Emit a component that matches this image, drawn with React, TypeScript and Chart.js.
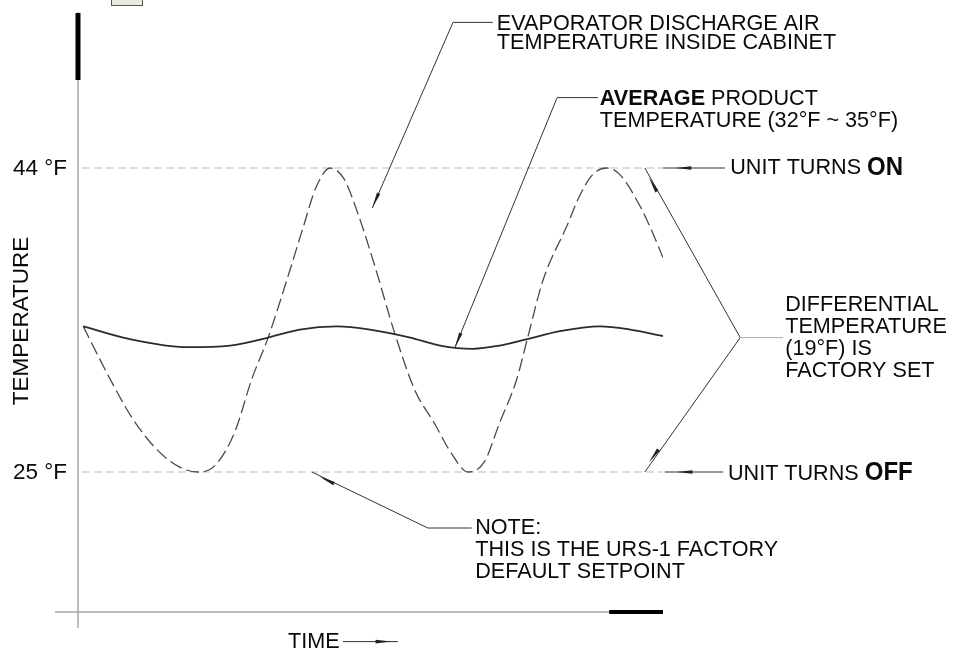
import React, { useEffect, useRef } from "react";
import { Chart, registerables } from "chart.js";

Chart.register(...registerables);

// ---- DATA (time in arbitrary units 0..100, temperature in °F) ----
const EVAP_TIME = [0.9, 5.5, 9.4, 13.5, 17.4, 20.5, 23.4, 26.8, 29.7, 32.5, 35.7, 38.5, 40.7, 43.1, 45.5, 47.9, 50.8, 54.2, 57.6, 61.0, 63.6, 66.7, 69.4, 72.1, 75.0, 76.8, 79.5, 83.6, 85.8, 88.0, 90.4, 92.6, 96.1, 97.8, 100];
const EVAP_TEMP = [34.1, 30.8, 28.3, 26.4, 25.3, 25.0, 25.4, 27.5, 30.8, 33.4, 37.0, 40.3, 42.8, 44.0, 43.3, 41.1, 37.8, 33.6, 30.1, 28.0, 26.3, 25.0, 25.6, 28.1, 30.8, 33.3, 37.0, 40.4, 42.3, 43.6, 44.0, 43.6, 41.6, 40.3, 38.4];

const AVG_TIME = [0.9, 8.9, 18.6, 26.0, 32.5, 37.9, 44.3, 49.9, 56.8, 61.9, 67.5, 72.1, 76.8, 82.4, 89.2, 94.4, 100];
const AVG_TEMP = [34.1, 33.3, 32.8, 32.9, 33.4, 33.9, 34.1, 33.9, 33.4, 32.9, 32.7, 32.9, 33.3, 33.8, 34.1, 33.9, 33.5];

const SETPOINT_ON = 44;
const SETPOINT_OFF = 25;
const REF_TIME = [0.7, 100];
const Y_TICK_VALUES = [44, 25];
const Y_TICK_LABELS = ["44 °F", "25 °F"];

// ---- LAYOUT (chart units) ----
const X_MIN = -3.93;
const X_MAX = 100;
const Y_MIN = 15.25;
const Y_MAX = 53.75;
const X_AXIS_AT = 16.25;
const Y_AXIS_AT = 0;
const Y_AXIS_BOLD_TO = 49.5;
const X_AXIS_BOLD_FROM = 90.8;

const FONT = '"Liberation Sans", Arial, Helvetica, sans-serif';
const FS = 22.5;
const FS_BOLD = 25;
const TEXT_SCALE_X = 0.96;

type Pt = [number, number];
interface Callout {
  path: Pt[];
  arrows: { tip: Pt; from: Pt }[];
  color?: string;
}

const CALLOUTS: Callout[] = [
  { path: [[50.3, 41.5], [64.1, 53.1], [70.9, 53.1]], arrows: [{ tip: [50.3, 41.5], from: [64.1, 53.1] }] },
  { path: [[64.4, 32.75], [81.9, 48.4], [88.9, 48.4]], arrows: [{ tip: [64.4, 32.75], from: [81.9, 48.4] }] },
  { path: [[100, 44], [110.6, 44]], arrows: [{ tip: [102.1, 44], from: [110.6, 44] }] },
  { path: [[100.3, 25], [110.3, 25]], arrows: [{ tip: [102.3, 25], from: [110.3, 25] }] },
  {
    path: [[96.9, 44], [113.2, 33.4], [96.9, 25]],
    arrows: [
      { tip: [97.6, 43.4], from: [113.2, 33.4] },
      { tip: [97.6, 25.6], from: [113.2, 33.4] },
    ],
  },
  { path: [[113.2, 33.4], [120.5, 33.4]], arrows: [], color: "#aaaaaa" },
  { path: [[40, 25], [59.8, 21.5], [67.3, 21.5]], arrows: [{ tip: [41.3, 24.7], from: [59.8, 21.5] }] },
  { path: [[45.3, 14.4], [54.7, 14.4]], arrows: [{ tip: [53.6, 14.4], from: [45.3, 14.4] }] },
];

interface Seg { t: string; b?: boolean }
const LABELS: { at: Pt; segs: Seg[] }[] = [
  { at: [71.6, 53.0], segs: [{ t: "EVAPORATOR DISCHARGE AIR" }] },
  { at: [71.6, 51.8], segs: [{ t: "TEMPERATURE INSIDE CABINET" }] },
  { at: [89.2, 48.3], segs: [{ t: "AVERAGE", b: true }, { t: " PRODUCT" }] },
  { at: [89.2, 46.95], segs: [{ t: "TEMPERATURE (32°F ~ 35°F)" }] },
  { at: [111.5, 44], segs: [{ t: "UNIT TURNS " }, { t: "ON", b: true }] },
  { at: [120.9, 35.45], segs: [{ t: "DIFFERENTIAL" }] },
  { at: [120.9, 34.05], segs: [{ t: "TEMPERATURE" }] },
  { at: [120.9, 32.7], segs: [{ t: "(19°F) IS" }] },
  { at: [120.9, 31.3], segs: [{ t: "FACTORY SET" }] },
  { at: [111.1, 24.9], segs: [{ t: "UNIT TURNS " }, { t: "OFF", b: true }] },
  { at: [67.9, 21.5], segs: [{ t: "NOTE:" }] },
  { at: [67.9, 20.12], segs: [{ t: "THIS IS THE URS-1 FACTORY" }] },
  { at: [67.9, 18.75], segs: [{ t: "DEFAULT SETPOINT" }] },
  { at: [35.9, 14.4], segs: [{ t: "TIME" }] },
];
const BOLD_BIG = new Set(["ON", "OFF"]);
const Y_TITLE = "TEMPERATURE";
const Y_TITLE_AT: Pt = [-9.57, 34.44];

function arrowHead(ctx: CanvasRenderingContext2D, fx: number, fy: number, tx: number, ty: number, len: number, w: number) {
  const a = Math.atan2(ty - fy, tx - fx);
  const bx = tx - len * Math.cos(a);
  const by = ty - len * Math.sin(a);
  ctx.beginPath();
  ctx.moveTo(tx, ty);
  ctx.lineTo(bx + w * Math.sin(a), by - w * Math.cos(a));
  ctx.lineTo(bx - w * Math.sin(a), by + w * Math.cos(a));
  ctx.closePath();
  ctx.fill();
}

const diagramPlugin = {
  id: "diagram",
  beforeDatasetsDraw(chart: any) {
    const { ctx } = chart;
    const xs = chart.scales.x;
    const ys = chart.scales.y;
    const X = (t: number) => xs.getPixelForValue(t);
    const Y = (v: number) => ys.getPixelForValue(v);
    ctx.save();
    // y axis
    ctx.strokeStyle = "#a8a8a8";
    ctx.lineWidth = 1.5;
    ctx.beginPath();
    ctx.moveTo(X(Y_AXIS_AT), Y(Y_MAX));
    ctx.lineTo(X(Y_AXIS_AT), Y(Y_MIN));
    ctx.stroke();
    ctx.strokeStyle = "#000";
    ctx.lineWidth = 5;
    ctx.beginPath();
    ctx.moveTo(X(Y_AXIS_AT), Y(Y_MAX) + 1);
    ctx.lineTo(X(Y_AXIS_AT), Y(Y_AXIS_BOLD_TO));
    ctx.stroke();
    // x axis
    ctx.strokeStyle = "#a8a8a8";
    ctx.lineWidth = 1.5;
    ctx.beginPath();
    ctx.moveTo(X(X_MIN), Y(X_AXIS_AT));
    ctx.lineTo(X(X_MAX), Y(X_AXIS_AT));
    ctx.stroke();
    ctx.strokeStyle = "#000";
    ctx.lineWidth = 4;
    ctx.beginPath();
    ctx.moveTo(X(X_AXIS_BOLD_FROM), Y(X_AXIS_AT));
    ctx.lineTo(X(X_MAX), Y(X_AXIS_AT));
    ctx.stroke();
    // small title-block icon
    ctx.fillStyle = "#e9e9dc";
    ctx.fillRect(111, -2, 32, 8);
    ctx.strokeStyle = "#555";
    ctx.lineWidth = 1;
    ctx.strokeRect(111.5, -2, 31, 7.5);
    ctx.restore();
  },
  afterDatasetsDraw(chart: any) {
    const { ctx } = chart;
    const xs = chart.scales.x;
    const ys = chart.scales.y;
    const X = (t: number) => xs.getPixelForValue(t);
    const Y = (v: number) => ys.getPixelForValue(v);
    ctx.save();
    // callouts
    for (const c of CALLOUTS) {
      ctx.strokeStyle = c.color || "#333";
      ctx.fillStyle = "#222";
      ctx.lineWidth = 1;
      ctx.beginPath();
      c.path.forEach((p, i) => {
        const px = X(p[0]);
        const py = Y(p[1]);
        if (i === 0) ctx.moveTo(px, py);
        else ctx.lineTo(px, py);
      });
      ctx.stroke();
      for (const a of c.arrows) {
        arrowHead(ctx, X(a.from[0]), Y(a.from[1]), X(a.tip[0]), Y(a.tip[1]), 16, 1.8);
      }
    }
    // labels (slightly condensed, like the CAD lettering)
    ctx.fillStyle = "#0a0a0a";
    ctx.textBaseline = "middle";
    ctx.textAlign = "left";
    for (const l of LABELS) {
      const x0 = X(l.at[0]);
      const py = Y(l.at[1]);
      ctx.save();
      ctx.translate(x0, py);
      ctx.scale(TEXT_SCALE_X, 1);
      let px = 0;
      for (const s of l.segs) {
        const size = s.b && BOLD_BIG.has(s.t) ? FS_BOLD : FS;
        ctx.font = `${s.b ? "bold " : ""}${size}px ${FONT}`;
        ctx.fillText(s.t, px, 0);
        px += ctx.measureText(s.t).width;
      }
      ctx.restore();
    }
    // y tick labels
    ctx.font = `${FS}px ${FONT}`;
    ctx.textAlign = "right";
    Y_TICK_VALUES.forEach((v, i) => {
      ctx.fillText(Y_TICK_LABELS[i], X(Y_AXIS_AT) - 11, Y(v) + 1);
    });
    // y title
    ctx.save();
    ctx.translate(X(Y_TITLE_AT[0]), Y(Y_TITLE_AT[1]));
    ctx.rotate(-Math.PI / 2);
    ctx.textAlign = "center";
    ctx.fillText(Y_TITLE, 0, 0);
    ctx.restore();
    ctx.restore();
  },
};

export default function App() {
  const ref = useRef<HTMLCanvasElement | null>(null);
  useEffect(() => {
    if (!ref.current) return;
    const toXY = (ts: number[], vs: number[]) => ts.map((t, i) => ({ x: t, y: vs[i] }));
    const chart = new Chart(ref.current, {
      type: "line",
      data: {
        datasets: [
          {
            label: "Average product temperature",
            data: toXY(AVG_TIME, AVG_TEMP),
            borderColor: "#2b2b2b",
            borderWidth: 1.8,
            pointRadius: 0,
            cubicInterpolationMode: "monotone",
            fill: false,
          },
          {
            label: "Evaporator discharge air temperature",
            data: toXY(EVAP_TIME, EVAP_TEMP),
            borderColor: "#4a4a4a",
            borderWidth: 1.3,
            borderDash: [13, 5],
            pointRadius: 0,
            cubicInterpolationMode: "monotone",
            fill: false,
          },
          {
            label: "Unit turns on",
            data: REF_TIME.map((t) => ({ x: t, y: SETPOINT_ON })),
            borderColor: "#bdbdbd",
            borderWidth: 1.2,
            borderDash: [8, 4],
            pointRadius: 0,
            fill: false,
          },
          {
            label: "Unit turns off",
            data: REF_TIME.map((t) => ({ x: t, y: SETPOINT_OFF })),
            borderColor: "#bdbdbd",
            borderWidth: 1.2,
            borderDash: [8, 4],
            pointRadius: 0,
            fill: false,
          },
        ],
      },
      options: {
        animation: false,
        responsive: false,
        devicePixelRatio: 1,
        layout: { padding: { left: 55, right: 296, top: 12, bottom: 24 } },
        plugins: { legend: { display: false }, tooltip: { enabled: false } },
        scales: {
          x: { type: "linear", min: X_MIN, max: X_MAX, display: false },
          y: { type: "linear", min: Y_MIN, max: Y_MAX, display: false },
        },
        events: [],
      },
      plugins: [diagramPlugin],
    } as any);
    return () => chart.destroy();
  }, []);
  return (
    <div style={{ position: "absolute", left: 0, top: 0, width: 959, height: 652, background: "#fff" }}>
      <canvas ref={ref} width={959} height={652} style={{ display: "block" }} />
    </div>
  );
}
